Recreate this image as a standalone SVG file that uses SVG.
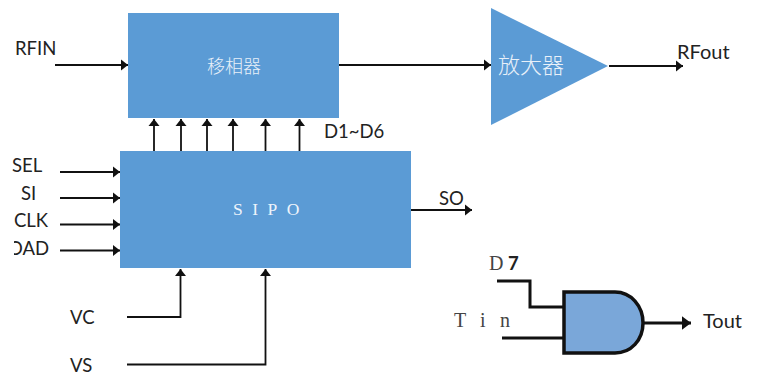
<svg xmlns="http://www.w3.org/2000/svg" width="761" height="376" viewBox="0 0 761 376">
<style>
.b{fill:#5b9bd5}
.c{fill:none;stroke:#111;stroke-width:1.8}
.g{fill:none;stroke:#111;stroke-width:3}
.t{font-family:Lato,"Liberation Sans",sans-serif;font-size:18.5px;fill:#222}
.l{font-size:20px}
.s{font-family:"Liberation Serif",serif;font-size:20px;fill:#444}
.w{font-family:"Noto Sans CJK SC",sans-serif;font-weight:300;fill:#e8f0f9}
</style>
<defs>
<marker id="a" markerUnits="userSpaceOnUse" markerWidth="8" markerHeight="12" refX="7" refY="6" orient="auto"><path d="M0 0.500L7 6L0 11.500Z" fill="#111"/></marker>
<marker id="a2" markerUnits="userSpaceOnUse" markerWidth="11" markerHeight="16" refX="9.500" refY="7.500" orient="auto"><path d="M0 0.500L9.500 7.500L0 14.500Z" fill="#111"/></marker>
<clipPath id="cut"><rect x="14" y="235" width="40" height="28"/></clipPath>
</defs>
<g id="connectors">
<path class="c" d="M55 65H128" marker-end="url(#a)"/>
<path class="c" d="M339 65H491" marker-end="url(#a)"/>
<path class="c" d="M609 66H683" marker-end="url(#a)"/>
<path class="c" d="M154 151V119" marker-end="url(#a)"/>
<path class="c" d="M181 151V119" marker-end="url(#a)"/>
<path class="c" d="M207 151V119" marker-end="url(#a)"/>
<path class="c" d="M233 151V119" marker-end="url(#a)"/>
<path class="c" d="M265.500 151V119" marker-end="url(#a)"/>
<path class="c" d="M299.500 151V119" marker-end="url(#a)"/>
<path class="c" d="M60 172H120" marker-end="url(#a)"/>
<path class="c" d="M60 198H120" marker-end="url(#a)"/>
<path class="c" d="M60 224.500H120" marker-end="url(#a)"/>
<path class="c" d="M60 250.500H120" marker-end="url(#a)"/>
<path class="c" d="M411 210H472" marker-end="url(#a)"/>
<path class="c" d="M127 317H180.500V269" marker-end="url(#a)"/>
<path class="c" d="M127 364.500H265.500V269" marker-end="url(#a)"/>
<path class="g" d="M497 281H530V307H564"/>
<path class="g" d="M502 338H564"/>
<path class="g" d="M644 323H691" marker-end="url(#a2)"/>
</g>
<g id="phase-shifter"><rect class="b" x="128" y="13" width="211" height="105"/><text class="w" x="234" y="73" font-size="18" text-anchor="middle">移相器</text></g>
<g id="amplifier"><path class="b" d="M491 8L608 66L491 125Z"/><text class="w" x="531" y="73" font-size="22" text-anchor="middle">放大器</text></g>
<g id="sipo"><rect class="b" x="120" y="151" width="291" height="117"/><text x="233" y="215" font-family="Liberation Serif,serif" font-size="17.500" letter-spacing="9.500" fill="#eef4fb">SIPO</text></g>
<g id="and-gate"><path d="M564 292H615C631 292 643 306 643 323C643 340 631 353 615 353H564Z" fill="#7aa7d9" stroke="#111" stroke-width="3.5"/></g>
<g id="labels">
<text class="t" x="15" y="55">RFIN</text>
<text class="t l" x="677" y="59">RFout</text>
<text class="t" x="324" y="138">D1~D6</text>
<text class="t" x="12" y="172">SEL</text>
<text class="t" x="21" y="200">SI</text>
<text class="t" x="14" y="227">CLK</text>
<text class="t" x="8" y="255" clip-path="url(#cut)">OAD</text>
<text class="t" x="439" y="205">SO</text>
<text class="t" x="70" y="324">VC</text>
<text class="t" x="70" y="372">VS</text>
<text class="s" x="489" y="270">D</text>
<text class="t" x="508" y="270" style="font-weight:bold">7</text>
<text class="s" x="454" y="327" letter-spacing="14.500">Tin</text>
<text class="t l" x="703" y="328">Tout</text>
</g>
</svg>
